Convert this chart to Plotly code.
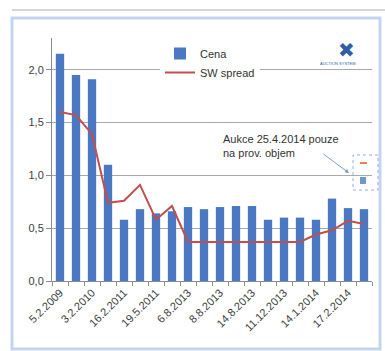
import plotly.graph_objects as go

# ---- data ----
x_idx = list(range(20))
tick_positions = [0, 2, 4, 6, 8, 10, 12, 14, 16, 18]
tick_labels = ["5.2.2009", "3.2.2010", "16.2.2011", "19.5.2011", "6.8.2013",
               "8.8.2013", "14.8.2013", "11.12.2013", "14.1.2014", "17.2.2014"]
cena = [2.15, 1.95, 1.91, 1.10, 0.58, 0.68, 0.64, 0.66, 0.70, 0.68,
        0.70, 0.71, 0.71, 0.58, 0.60, 0.60, 0.58, 0.78, 0.69, 0.68]
sw_spread = [1.60, 1.57, 1.39, 0.74, 0.76, 0.91, 0.58, 0.71, 0.37, 0.37,
             0.37, 0.37, 0.37, 0.37, 0.37, 0.37, 0.44, 0.48, 0.57, 0.54]
y_ticks = [0, 0.5, 1.0, 1.5, 2.0]

# ---- layout geometry (pixels) ----
W, H = 385, 351
L, R, T, B = 52, 13, 38, 70
PW, PH = W - L - R, H - T - B


def px(xp):
    return (xp - L) / PW


def py(yp):
    return (H - B - yp) / PH


BLUE = "#4a78c2"
RED = "#c0504d"
FONT = "Liberation Sans, Arial, sans-serif"

fig = go.Figure()
fig.add_trace(go.Bar(x=x_idx, y=cena, name="Cena", marker=dict(color=BLUE, line=dict(width=0))))
fig.add_trace(go.Scatter(x=x_idx, y=sw_spread, name="SW spread", mode="lines",
                         line=dict(color=RED, width=2)))

shapes = [
    # outer light blue frame
    dict(type="rect", xref="paper", yref="paper", x0=px(12), x1=px(380), y0=py(349), y1=py(18),
         line=dict(color="#c3d5ec", width=3), layer="below"),
    # gray line on top
    dict(type="line", xref="paper", yref="paper", x0=px(12), x1=px(385), y0=py(10), y1=py(10),
         line=dict(color="#d6d6d6", width=2)),
    # dotted mini legend box
    dict(type="rect", xref="paper", yref="paper", x0=px(353), x1=px(378), y0=py(190), y1=py(155),
         line=dict(color="#8fb0dc", width=1, dash="dot")),
    dict(type="line", xref="paper", yref="paper", x0=px(360), x1=px(367), y0=py(163), y1=py(163),
         line=dict(color="#e8864a", width=2)),
    dict(type="rect", xref="paper", yref="paper", x0=px(360), x1=px(366), y0=py(184), y1=py(177),
         line=dict(width=0), fillcolor="#6f98d0"),
]

annotations = [
    dict(xref="paper", yref="paper", x=px(221), y=py(131), xanchor="left", yanchor="top",
         text="Aukce 25.4.2014 pouze<br>na prov. objem", align="left", showarrow=False,
         font=dict(family=FONT, size=11, color="#333333")),
    dict(xref="paper", yref="paper", x=px(349), y=py(173), ax=-27, ay=-20, text="",
         showarrow=True, arrowhead=2, arrowsize=0.8, arrowwidth=1, arrowcolor="#7f9cc4"),
    dict(xref="paper", yref="paper", x=px(356), y=py(37), text="✖", showarrow=False,
         font=dict(family="DejaVu Sans", size=20, color="#2e5da6"), borderpad=0),
    dict(xref="paper", yref="paper", x=px(357), y=py(60), text="AUCTION SYSTEM", showarrow=False,
         font=dict(family=FONT, size=4, color="#2e5da6"), borderpad=0),
]

fig.update_layout(
    width=W, height=H,
    margin=dict(l=L, r=R, t=T, b=B),
    paper_bgcolor="white", plot_bgcolor="white",
    separators=", ",
    bargap=0.48,
    font=dict(family=FONT, size=11, color="#404040"),
    legend=dict(x=px(160), y=py(39), xanchor="left", yanchor="top", bgcolor="white",
                font=dict(family=FONT, size=11, color="#333333"), itemwidth=30,
                tracegroupgap=0),
    shapes=shapes,
    annotations=annotations,
)
fig.update_xaxes(
    range=[-0.5, 19.5],
    tickmode="array", tickvals=tick_positions, ticktext=tick_labels,
    tickangle=-45, ticks="", showgrid=False, zeroline=False,
    showline=True, linecolor="#8c8c8c", linewidth=1,
    tickfont=dict(family=FONT, size=11, color="#404040"),
    minor=dict(tickmode="array", tickvals=[i - 0.5 for i in range(21)], ticks="outside",
               ticklen=4, tickcolor="#8c8c8c", showgrid=False),
)
fig.update_yaxes(
    range=[0, 2.3],
    tickmode="array", tickvals=y_ticks, tickformat=".1f",
    ticks="outside", ticklen=5, tickcolor="#8c8c8c",
    showline=True, linecolor="#8c8c8c", linewidth=1,
    showgrid=True, gridcolor="#a8a8a8", gridwidth=1, zeroline=False,
    tickfont=dict(family=FONT, size=11, color="#404040"),
)

fig.write_html("out.html")
